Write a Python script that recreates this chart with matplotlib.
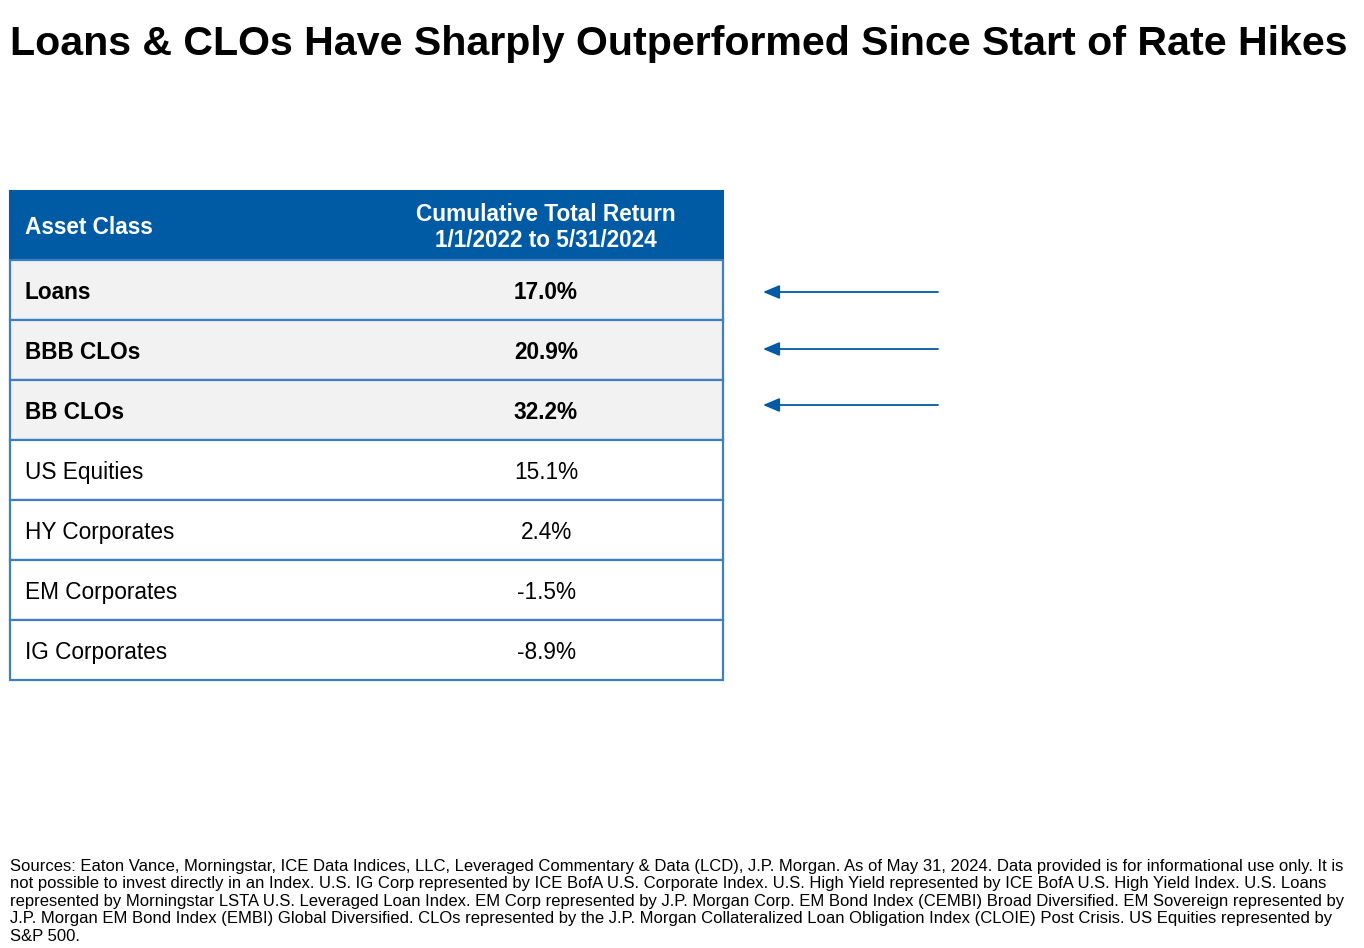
import matplotlib.pyplot as plt
from matplotlib.patches import Rectangle

plt.rcParams['font.family'] = ['Liberation Sans', 'DejaVu Sans']

# table data
asset_class = ["Loans", "BBB CLOs", "BB CLOs", "US Equities",
               "HY Corporates", "EM Corporates", "IG Corporates"]
total_return = [17.0, 20.9, 32.2, 15.1, 2.4, -1.5, -8.9]
highlighted = [True, True, True, False, False, False, False]

title = "Loans & CLOs Have Sharply Outperformed Since Start of Rate Hikes"
header_1 = "Asset Class"
header_2 = "Cumulative Total Return\n1/1/2022 to 5/31/2024"
footnote = [
    "Sources: Eaton Vance, Morningstar, ICE Data Indices, LLC, Leveraged Commentary & Data (LCD), J.P. Morgan. As of May 31, 2024. Data provided is for informational use only. It is",
    "not possible to invest directly in an Index. U.S. IG Corp represented by ICE BofA U.S. Corporate Index. U.S. High Yield represented by ICE BofA U.S. High Yield Index. U.S. Loans",
    "represented by Morningstar LSTA U.S. Leveraged Loan Index. EM Corp represented by J.P. Morgan Corp. EM Bond Index (CEMBI) Broad Diversified. EM Sovereign represented by",
    "J.P. Morgan EM Bond Index (EMBI) Global Diversified. CLOs represented by the J.P. Morgan Collateralized Loan Obligation Index (CLOIE) Post Crisis. US Equities represented by",
    "S&P 500.",
]

blue = "#005BA4"
border = "#3F7FBF"
grey = "#F2F2F2"

fig = plt.figure(figsize=(13.64, 9.48), dpi=100)
ax = fig.add_axes([0, 0, 1, 1])
ax.set_xlim(0, 1364)
ax.set_ylim(948, 0)
ax.axis("off")

# title
ax.text(10, 44, title, fontsize=29.6, fontweight="bold", va="center", ha="left")

# table geometry (pixels)
left, right = 10, 723
top, head_h, row_h = 191, 69, 60
col2 = 546
fs = 16.3

ax.add_patch(Rectangle((left, top), right - left, head_h, facecolor=blue,
                       edgecolor=blue, lw=1.5))
ax.text(25, top + head_h / 2 + 2, header_1, color="white", fontsize=fs,
        fontweight="bold", va="center")
ax.text(col2, top + head_h / 2 + 2, header_2, color="white", fontsize=fs,
        fontweight="bold", va="center", ha="center", linespacing=1.2)

for i, (name, val, hl) in enumerate(zip(asset_class, total_return, highlighted)):
    y0 = top + head_h + i * row_h
    ax.add_patch(Rectangle((left, y0), right - left, row_h,
                           facecolor=grey if hl else "white",
                           edgecolor=border, lw=1.6))
    w = "bold" if hl else "normal"
    yc = y0 + row_h / 2 + 2.5
    ax.text(25, yc, name, fontsize=fs, fontweight=w, va="center")
    ax.text(col2, yc, f"{val:.1f}%", fontsize=fs, fontweight=w,
            va="center", ha="center")
    if hl:
        ay = [292, 349, 405][i]
        ax.annotate("", xy=(763, ay), xytext=(938, ay),
                    arrowprops=dict(arrowstyle="-|>,head_length=1.0,head_width=0.42",
                                    color=blue, lw=1.3, shrinkA=0, shrinkB=0))

# footnote
for j, line in enumerate(footnote):
    ax.text(10, 866 + j * 17.6, line, fontsize=11.95, va="center", ha="left")

fig.savefig("out.png", dpi=100)
